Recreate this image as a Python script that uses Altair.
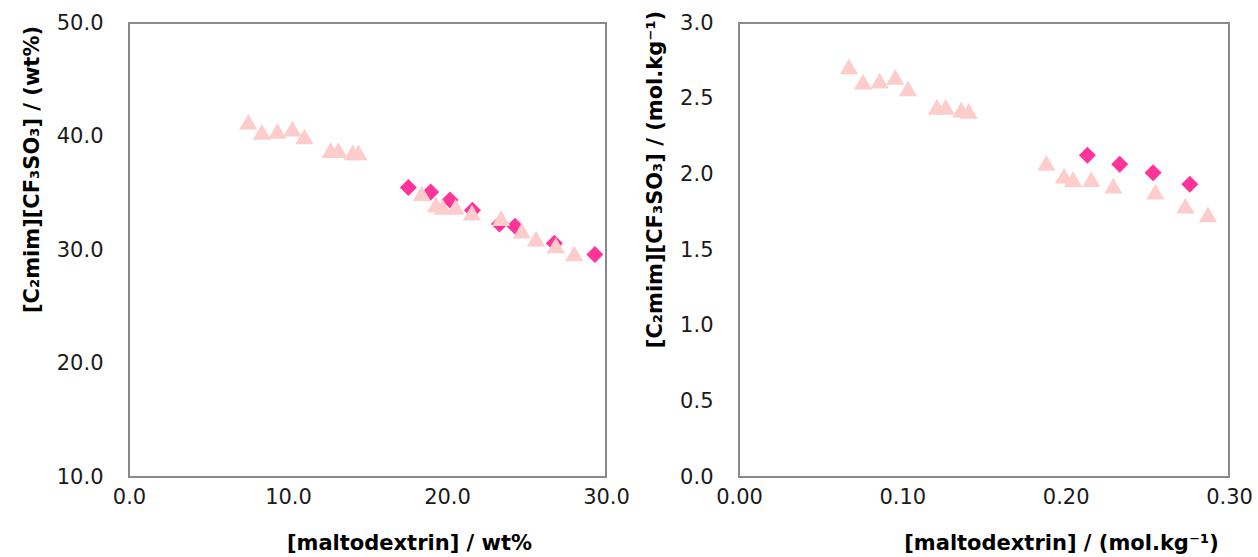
import altair as alt
import pandas as pd

# Binodal data, weight-fraction basis
wt_tri_x = [7.50, 8.35, 9.33, 10.27, 11.03, 12.68, 13.17, 14.07, 14.43,
            18.41, 19.31, 19.73, 20.54, 21.57, 23.40, 24.70, 25.60, 26.84, 28.00]
wt_tri_y = [41.3, 40.4, 40.5, 40.7, 40.0, 38.8, 38.8, 38.6, 38.6,
            35.0, 34.0, 33.8, 33.8, 33.3, 32.8, 31.7, 31.0, 30.4, 29.7]
wt_dia_x = [17.57, 18.97, 20.19, 21.60, 23.30, 24.28, 26.75, 29.30]
wt_dia_y = [35.5, 35.1, 34.4, 33.5, 32.3, 32.1, 30.6, 29.6]

# Same data, molality basis
mol_tri_x = [0.0673, 0.0759, 0.0861, 0.0957, 0.1035, 0.1212, 0.1265, 0.1361, 0.1406,
             0.1882, 0.1990, 0.2045, 0.2157, 0.2292, 0.2549, 0.2733, 0.2871]
mol_tri_y = [2.714, 2.612, 2.619, 2.644, 2.568, 2.445, 2.445, 2.427, 2.420,
             2.075, 1.991, 1.969, 1.969, 1.925, 1.885, 1.793, 1.736]
mol_dia_x = [0.2133, 0.2331, 0.2535, 0.2760]
mol_dia_y = [2.126, 2.066, 2.011, 1.934]

TRI_COLOR = "#FFCCCC"
DIA_COLOR = "#FF3399"
FONT = "DejaVu Sans"

wt_tri = pd.DataFrame({"x": wt_tri_x, "y": wt_tri_y})
wt_dia = pd.DataFrame({"x": wt_dia_x, "y": wt_dia_y})
mol_tri = pd.DataFrame({"x": mol_tri_x, "y": mol_tri_y})
mol_dia = pd.DataFrame({"x": mol_dia_x, "y": mol_dia_y})


def axis(fmt, values, title, **kw):
    return alt.Axis(format=fmt, values=values, title=title, grid=False, ticks=False,
                    domain=False, labelFlush=False, labelOverlap=False,
                    labelFont=FONT, labelFontSize=21, labelColor="#1a1a1a",
                    titleFont=FONT, titleFontSize=21, titleFontWeight="bold",
                    titleColor="#000000", **kw)


def panel(tri, dia, xdom, ydom, xfmt, yfmt, xvals, yvals, xtitle, ytitle, w, xtx, yty):
    xs = alt.Scale(domain=xdom, nice=False, zero=False)
    ys = alt.Scale(domain=ydom, nice=False, zero=False)
    xa = axis(xfmt, xvals, xtitle, labelPadding=9, titlePadding=25, titleX=xtx)
    ya = axis(yfmt, yvals, ytitle, labelPadding=26, titlePadding=14, titleY=yty)
    dia_layer = alt.Chart(dia).mark_point(shape="diamond", filled=True, size=290,
                                          color=DIA_COLOR, opacity=1).encode(
        x=alt.X("x:Q", scale=xs, axis=xa), y=alt.Y("y:Q", scale=ys, axis=ya))
    tri_layer = alt.Chart(tri).mark_point(shape="triangle-up", filled=True, size=330,
                                          color=TRI_COLOR, opacity=1).encode(
        x=alt.X("x:Q", scale=xs, axis=xa), y=alt.Y("y:Q", scale=ys, axis=ya))
    return alt.layer(dia_layer, tri_layer).properties(width=w, height=454)


left = panel(wt_tri, wt_dia, [0, 30], [10, 50], ".1f", ".1f",
             [0, 10, 20, 30], [10, 20, 30, 40, 50],
             "[maltodextrin] / wt%", "[C₂mim][CF₃SO₃] / (wt%)", 477, 280, 146)
right = panel(mol_tri, mol_dia, [0, 0.3], [0, 3], ".2f", ".1f",
              [0, 0.1, 0.2, 0.3], [0, 0.5, 1.0, 1.5, 2.0, 2.5, 3.0],
              "[maltodextrin] / (mol.kg⁻¹)", "[C₂mim][CF₃SO₃] / (mol.kg⁻¹)", 490, 322, 156)

chart = alt.hconcat(left, right, spacing=12).configure_view(
    stroke="#898989", strokeWidth=2
).properties(
    padding={"left": 20, "top": 9, "right": 0, "bottom": 0},
    background="white"
)

chart.save("out.html", embed_options={"renderer": "svg", "actions": False})
